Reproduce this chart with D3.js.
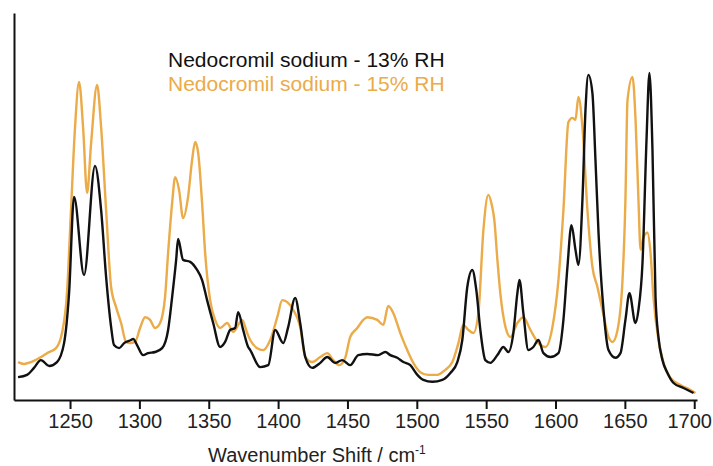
<!DOCTYPE html>
<html>
<head>
<meta charset="utf-8">
<script src="https://cdn.jsdelivr.net/npm/d3@7"></script>
<style>
  body { margin: 0; background: #fff; }
  svg { display: block; font-family: "Liberation Sans", Arial, sans-serif; }
</style>
</head>
<body>
<svg id="chart"></svg>
<script>
const w = 713;
const h = 466;

// Raman spectra, wavenumber (cm-1) and intensity (arb. units, 0-100)
const wn13 = [1212.5, 1219, 1224, 1229, 1235, 1240.6, 1245.7, 1249.3, 1252.9, 1260.1, 1268, 1272.4, 1276, 1279.6, 1281.7, 1285.4, 1289, 1294, 1295.5, 1298.3, 1302.7, 1306.3, 1311.3, 1316.4, 1320.7, 1323.6, 1326.5, 1327.9, 1331.5, 1336.6, 1341.6, 1345.2, 1348.8, 1353.2, 1358.2, 1361.8, 1365.4, 1369, 1371.2, 1374.8, 1378.4, 1379.9, 1387.1, 1392.9, 1397.9, 1403.7, 1407.3, 1412.3, 1415.9, 1419.6, 1424.6, 1430.4, 1435.4, 1441.2, 1446.2, 1452, 1457.8, 1464.3, 1472.2, 1477.3, 1480.9, 1485.9, 1490.3, 1495.3, 1500.4, 1504.7, 1511.2, 1518.4, 1524.2, 1529.2, 1532.8, 1536.4, 1540, 1542.9, 1545.8, 1549.4, 1553, 1558.1, 1562.4, 1566, 1569.6, 1572.5, 1574, 1576.8, 1580.4, 1584, 1587.7, 1591.3, 1596.3, 1602.1, 1605.7, 1608.6, 1611.5, 1614.4, 1616.5, 1619.4, 1621.6, 1623.7, 1626.6, 1628.8, 1631, 1634.6, 1638.2, 1643.2, 1646.8, 1650.4, 1653.3, 1657.6, 1659.8, 1662.7, 1665.6, 1667.7, 1669.9, 1672.1, 1674.2, 1677.1, 1680.7, 1685.1, 1692.3, 1699.5];
const int13 = [5.9, 6.5, 8.3, 10.3, 8.8, 9.8, 14.7, 27.6, 52.5, 32.3, 60.5, 49.1, 31.8, 18.9, 14.2, 13.4, 14.7, 15.5, 15.8, 14.2, 11.6, 12.1, 12.4, 13.4, 18.1, 26.6, 36.2, 41.6, 36.2, 35.7, 33.6, 31.0, 25.8, 19.9, 13.7, 15.0, 18.1, 18.6, 22.7, 18.1, 13.7, 12.9, 8.5, 9.0, 18.1, 14.7, 18.9, 26.4, 19.9, 11.1, 8.3, 9.6, 11.1, 9.6, 10.3, 9.0, 11.6, 11.9, 11.6, 12.4, 11.6, 10.9, 9.8, 9.0, 6.5, 5.2, 4.7, 5.2, 7.0, 9.8, 15.5, 29.2, 33.6, 28.4, 18.1, 10.3, 9.6, 11.6, 13.7, 12.4, 17.3, 27.6, 31.0, 22.5, 12.9, 13.7, 15.5, 12.1, 11.1, 12.1, 20.7, 34.4, 45.2, 38.8, 34.9, 51.7, 74.9, 84.0, 79.3, 62.0, 43.2, 23.3, 12.9, 10.9, 12.1, 20.7, 27.6, 19.9, 23.3, 35.4, 67.2, 84.5, 64.6, 26.6, 16.3, 10.3, 7.0, 4.4, 3.1, 1.8];

const wn15 = [1212.5, 1216.8, 1221.9, 1229.1, 1233.4, 1239.9, 1244.2, 1247.8, 1250.7, 1253.6, 1256.5, 1259.4, 1262.3, 1265.2, 1269.5, 1272.4, 1276, 1279.6, 1283.2, 1286.8, 1290.4, 1293.3, 1296.9, 1300.5, 1304.1, 1307.7, 1311.3, 1314.9, 1318.5, 1320.7, 1323.6, 1325.8, 1328.6, 1331.5, 1335.1, 1338, 1340.2, 1342.4, 1345.2, 1347.4, 1351, 1354.6, 1358.2, 1363.3, 1367.6, 1374.1, 1377.7, 1379.9, 1384.9, 1389.2, 1394.3, 1399.4, 1403, 1406.6, 1410.9, 1415.9, 1419.6, 1424.6, 1430.4, 1435.4, 1439.8, 1444.1, 1448.4, 1452, 1457.1, 1461.4, 1464.3, 1471.5, 1475.8, 1479.4, 1483, 1488.1, 1493.1, 1497.5, 1502.5, 1508.3, 1514.8, 1520.6, 1525.6, 1530, 1533.5, 1537.2, 1540.8, 1544.4, 1548, 1551.6, 1554, 1555.9, 1558.1, 1560.2, 1563.9, 1567.5, 1572.5, 1576.8, 1581.9, 1587.7, 1592.7, 1597.8, 1602.1, 1605.7, 1609.3, 1612.2, 1614.4, 1616.5, 1619.4, 1623, 1626.6, 1630.2, 1634.6, 1638.2, 1641.1, 1644.7, 1648.3, 1650.4, 1651.9, 1655.5, 1657.7, 1659.8, 1661.3, 1663.4, 1666.3, 1668.5, 1670.6, 1674.2, 1677.9, 1682.9, 1690.1, 1697.3, 1700.9];
const int15 = [9.8, 9.3, 9.8, 11.1, 12.1, 13.4, 17.3, 27.6, 49.1, 70.5, 82.2, 70.5, 53.5, 66.4, 81.4, 70.5, 49.1, 29.2, 24.0, 19.9, 15.0, 14.7, 15.0, 18.6, 21.4, 20.7, 18.6, 19.9, 26.6, 38.0, 50.9, 57.6, 54.3, 47.0, 52.5, 62.0, 66.7, 63.8, 50.9, 38.0, 25.8, 20.7, 18.6, 19.9, 17.6, 20.7, 17.3, 15.5, 13.4, 12.9, 15.5, 21.4, 25.8, 25.3, 23.3, 18.9, 11.1, 9.8, 11.1, 12.1, 10.3, 9.0, 10.9, 16.3, 18.6, 20.7, 21.4, 20.7, 19.4, 24.3, 22.5, 17.3, 12.9, 9.6, 7.2, 6.5, 6.5, 7.8, 9.8, 14.7, 19.4, 18.1, 17.3, 22.5, 43.9, 53.0, 50.5, 46.5, 36.2, 27.6, 18.9, 16.3, 19.9, 21.4, 18.1, 14.7, 13.7, 18.9, 31.0, 49.1, 71.8, 72.9, 72.4, 78.3, 70.5, 49.1, 34.4, 29.2, 22.0, 16.3, 15.0, 18.1, 31.0, 51.7, 77.5, 83.5, 72.4, 51.7, 38.8, 42.1, 43.2, 38.0, 26.6, 15.5, 9.6, 5.7, 3.9, 2.6, 1.8];

const xTicks = [1250, 1300, 1350, 1400, 1450, 1500, 1550, 1600, 1650, 1700];
const seriesNames = ["Nedocromil sodium - 13% RH", "Nedocromil sodium - 15% RH"];
const seriesColors = ["#111111", "#EBAB48"];

const svg = d3.select("#chart").attr("width", w).attr("height", h);

const xScale = d3.scaleLinear().domain([1209.6, 1702]).range([14, 697]);
const yScale = d3.scaleLinear().domain([0, 100]).range([400, 13]);

const line = d3.line()
  .x(d => xScale(d[0]))
  .y(d => yScale(d[1]))
  .curve(d3.curveMonotoneX);

// orange drawn first, black on top
const series = [
  {pts: d3.zip(wn15, int15), color: seriesColors[1]},
  {pts: d3.zip(wn13, int13), color: seriesColors[0]}
];

svg.selectAll("path.spec")
  .data(series)
  .enter()
  .append("path")
  .attr("class", "spec")
  .attr("d", d => line(d.pts))
  .attr("fill", "none")
  .attr("stroke", d => d.color)
  .attr("stroke-width", 2.4)
  .attr("stroke-linejoin", "round");

// axes
const xAxis = d3.axisBottom(xScale)
  .tickValues(xTicks)
  .tickFormat(d3.format("d"))
  .tickSize(9).tickSizeOuter(0).tickPadding(5);
const gx = svg.append("g").attr("transform", "translate(0, 400)").call(xAxis);
gx.select(".domain").attr("stroke", "#111").attr("stroke-width", 2);
gx.selectAll(".tick line").attr("stroke", "#111").attr("stroke-width", 2);
gx.selectAll(".tick text")
  .attr("fill", "#222")
  .style("font-size", "20px")
  .style("font-family", "Liberation Sans, Arial, sans-serif")
  .attr("dx", d => d === 1700 ? -5 : 0);

const yAxis = d3.axisLeft(yScale).tickValues([]).tickSizeOuter(0);
const gy = svg.append("g").attr("transform", "translate(14, 0)").call(yAxis);
gy.select(".domain").attr("stroke", "#111").attr("stroke-width", 2);

// axis title
const title = svg.append("text")
  .attr("x", 208).attr("y", 462)
  .style("font-size", "20px")
  .attr("fill", "#222");
title.append("tspan").text("Wavenumber Shift / cm");
title.append("tspan").attr("dy", -8).style("font-size", "12px").text("-1");

// legend
svg.selectAll("text.legend")
  .data(seriesNames)
  .enter()
  .append("text")
  .attr("class", "legend")
  .attr("x", 168)
  .attr("y", (d, i) => 67 + i * 24)
  .style("font-size", "21px")
  .attr("fill", (d, i) => seriesColors[i])
  .text(d => d);
</script>
</body>
</html>
